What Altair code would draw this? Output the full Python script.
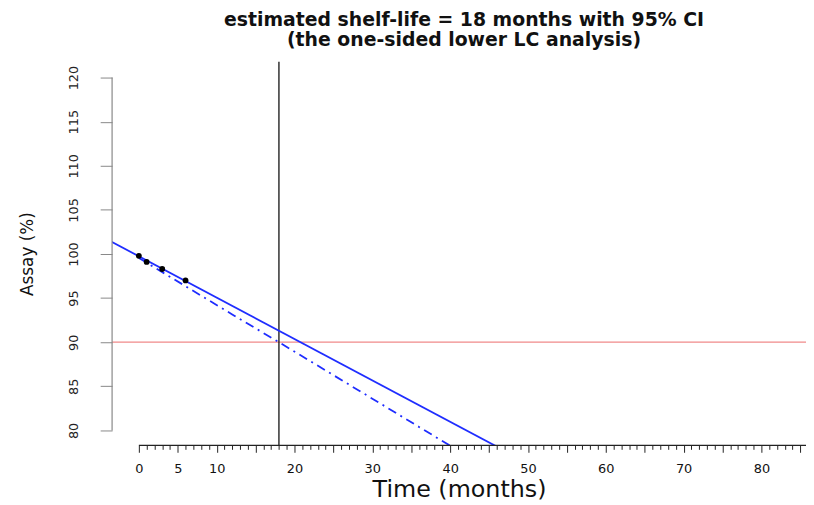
import altair as alt
import pandas as pd

# ---- data ----
obs_months = [0, 1, 3, 6]
obs_assay = [99.8, 99.1, 98.3, 97.0]

fit_months = [-4, 48]
fit_assay = [101.62, 77.23]

ci_months = [0, 6, 12, 18, 24, 30, 36, 42]
ci_assay = [99.55, 96.35, 93.15, 90.0, 86.8, 83.6, 80.4, 77.2]

spec_limit = [90]
shelf_life = [18]

x_axis_span = [0, 86]
y_axis_span = [80, 120]
x_ticks = list(range(0, 87))
y_ticks = [80, 85, 90, 95, 100, 105, 110, 115, 120]

x_domain = [-3.44, 85.73]
y_domain = [78.31, 121.8]

W, H = 700, 387
FONT = "DejaVu Sans"

xscale = alt.Scale(domain=x_domain, nice=False, zero=False)
yscale = alt.Scale(domain=y_domain, nice=False, zero=False)

xaxis = alt.Axis(
    values=x_ticks,
    tickSize={"condition": {"test": "datum.value % 5 === 0", "value": 7}, "value": 4},
    labelExpr="((datum.value % 10 === 0) || datum.value === 5) && datum.value <= 80 ? datum.label : ''",
    labelOverlap=False,
    labelFlush=False,
    domain=False,
    grid=False,
    tickColor="#222222",
    tickWidth=1,
    labelFont=FONT,
    labelFontSize=13,
    labelColor="#111111",
    labelPadding=10,
    title="Time (months)",
    titleFont=FONT,
    titleFontSize=24,
    titleFontWeight="normal",
    titleColor="#111111",
    titlePadding=3,
)
yaxis = alt.Axis(
    values=y_ticks,
    tickSize=12,
    labelAngle=270,
    labelFont=FONT,
    labelFontSize=13,
    labelColor="#222222",
    labelPadding=20,
    domain=False,
    grid=False,
    tickColor="#888888",
    labelOverlap=False,
    labelFlush=False,
    title="Assay (%)",
    titleFont=FONT,
    titleFontSize=17,
    titleFontWeight="normal",
    titleColor="#111111",
    titlePadding=31,
)

X = alt.X("month:Q", scale=xscale, axis=xaxis)
Y = alt.Y("assay:Q", scale=yscale, axis=yaxis)

obs = pd.DataFrame({"month": obs_months, "assay": obs_assay})
fit = pd.DataFrame({"month": fit_months, "assay": fit_assay})
ci = pd.DataFrame({"month": ci_months, "assay": ci_assay})

fit_line = alt.Chart(fit).mark_line(color="#1f2dff", strokeWidth=1.8, clip=True).encode(x=X, y=Y)
ci_line = alt.Chart(ci).mark_line(color="#1f2dff", strokeWidth=1.8, strokeDash=[9, 5, 2, 5], clip=True).encode(x=X, y=Y)
points = alt.Chart(obs).mark_point(filled=True, color="#000000", size=34, opacity=1).encode(x=X, y=Y)

red = alt.Chart(pd.DataFrame({"assay": spec_limit})).mark_rule(color="#f08a8a", strokeWidth=1.2).encode(y=Y)
vline = alt.Chart(pd.DataFrame({"month": shelf_life})).mark_rule(color="#111111", strokeWidth=1.3).encode(x=X)

xline = alt.Chart(pd.DataFrame({"month": [x_axis_span[0]], "month2": [x_axis_span[1]]})).mark_rule(
    color="#222222", strokeWidth=1.2
).encode(x=X, x2="month2:Q", y=alt.value(H))
yline = alt.Chart(pd.DataFrame({"assay": [y_axis_span[0]], "assay2": [y_axis_span[1]]})).mark_rule(
    color="#888888", strokeWidth=1.2
).encode(y=Y, y2="assay2:Q", x=alt.value(0))

chart = alt.layer(red, vline, fit_line, ci_line, points, xline, yline).properties(
    width=W,
    height=H,
    background="white",
    autosize=alt.AutoSizeParams(type="none"),
    padding={"left": 105, "top": 52, "right": 0, "bottom": 57},
    title=alt.TitleParams(
        text=["estimated shelf-life = 18 months with 95% CI", "(the one-sided lower LC analysis)"],
        font=FONT,
        fontSize=19,
        fontWeight="bold",
        color="#111111",
        anchor="middle",
        lineHeight=20,
        offset=11,
        dx=5,
    ),
).configure_view(strokeWidth=0, stroke="transparent")

chart.save("out.html", embed_options={"renderer": "svg", "actions": False})
